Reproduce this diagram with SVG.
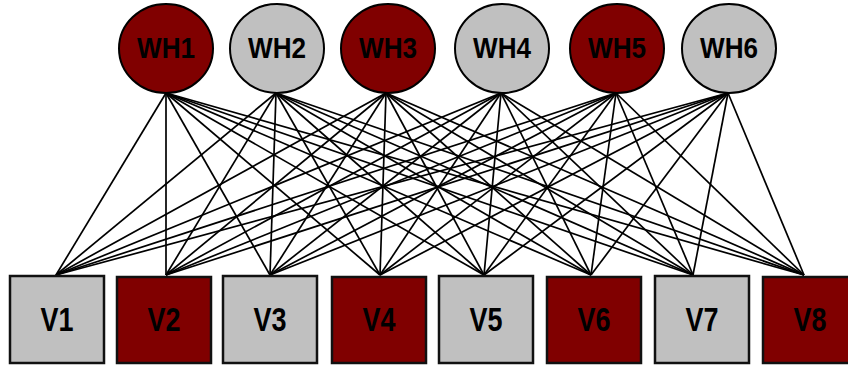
<svg xmlns="http://www.w3.org/2000/svg" width="848" height="365" viewBox="0 0 848 365">
<style>
.red{fill:#800000}
.gray{fill:#c0c0c0}
.c{stroke:#000;stroke-width:2}
.b{stroke:#111;stroke-width:2.5}
.t{font-family:"Liberation Sans",Arial,sans-serif;font-weight:bold;fill:#000;text-anchor:middle}
.wt{font-size:30px}
.vt{font-size:34px}
#edges line{stroke:#000;stroke-width:1.7}
</style>
<rect width="848" height="365" fill="#fff"/>
<g id="edges">
<line x1="166" y1="93" x2="56" y2="275"/><line x1="166" y1="93" x2="166" y2="275"/><line x1="166" y1="93" x2="270" y2="275"/><line x1="166" y1="93" x2="380" y2="275"/><line x1="166" y1="93" x2="484" y2="275"/><line x1="166" y1="93" x2="591" y2="275"/><line x1="166" y1="93" x2="693" y2="275"/><line x1="166" y1="93" x2="804" y2="275"/>
<line x1="276" y1="93" x2="56" y2="275"/><line x1="276" y1="93" x2="166" y2="275"/><line x1="276" y1="93" x2="270" y2="275"/><line x1="276" y1="93" x2="380" y2="275"/><line x1="276" y1="93" x2="484" y2="275"/><line x1="276" y1="93" x2="591" y2="275"/><line x1="276" y1="93" x2="693" y2="275"/><line x1="276" y1="93" x2="804" y2="275"/>
<line x1="386" y1="93" x2="56" y2="275"/><line x1="386" y1="93" x2="166" y2="275"/><line x1="386" y1="93" x2="270" y2="275"/><line x1="386" y1="93" x2="380" y2="275"/><line x1="386" y1="93" x2="484" y2="275"/><line x1="386" y1="93" x2="591" y2="275"/><line x1="386" y1="93" x2="693" y2="275"/><line x1="386" y1="93" x2="804" y2="275"/>
<line x1="501" y1="93" x2="56" y2="275"/><line x1="501" y1="93" x2="166" y2="275"/><line x1="501" y1="93" x2="270" y2="275"/><line x1="501" y1="93" x2="380" y2="275"/><line x1="501" y1="93" x2="484" y2="275"/><line x1="501" y1="93" x2="591" y2="275"/><line x1="501" y1="93" x2="693" y2="275"/><line x1="501" y1="93" x2="804" y2="275"/>
<line x1="616" y1="93" x2="56" y2="275"/><line x1="616" y1="93" x2="166" y2="275"/><line x1="616" y1="93" x2="270" y2="275"/><line x1="616" y1="93" x2="380" y2="275"/><line x1="616" y1="93" x2="484" y2="275"/><line x1="616" y1="93" x2="591" y2="275"/><line x1="616" y1="93" x2="693" y2="275"/><line x1="616" y1="93" x2="804" y2="275"/>
<line x1="728" y1="93" x2="56" y2="275"/><line x1="728" y1="93" x2="166" y2="275"/><line x1="728" y1="93" x2="270" y2="275"/><line x1="728" y1="93" x2="380" y2="275"/><line x1="728" y1="93" x2="484" y2="275"/><line x1="728" y1="93" x2="591" y2="275"/><line x1="728" y1="93" x2="693" y2="275"/><line x1="728" y1="93" x2="804" y2="275"/>
</g>
<g id="WH1"><ellipse class="red c" cx="166" cy="48.5" rx="47" ry="44.5"/><text class="t wt" x="166" y="57.5" textLength="58" lengthAdjust="spacingAndGlyphs">WH1</text></g>
<g id="WH2"><ellipse class="gray c" cx="277" cy="48.5" rx="47" ry="44.5"/><text class="t wt" x="277" y="57.5" textLength="58" lengthAdjust="spacingAndGlyphs">WH2</text></g>
<g id="WH3"><ellipse class="red c" cx="388" cy="48.5" rx="47" ry="44.5"/><text class="t wt" x="388" y="57.5" textLength="58" lengthAdjust="spacingAndGlyphs">WH3</text></g>
<g id="WH4"><ellipse class="gray c" cx="502" cy="48.5" rx="47" ry="44.5"/><text class="t wt" x="502" y="57.5" textLength="58" lengthAdjust="spacingAndGlyphs">WH4</text></g>
<g id="WH5"><ellipse class="red c" cx="617" cy="48.5" rx="47" ry="44.5"/><text class="t wt" x="617" y="57.5" textLength="58" lengthAdjust="spacingAndGlyphs">WH5</text></g>
<g id="WH6"><ellipse class="gray c" cx="729" cy="48.5" rx="47" ry="44.5"/><text class="t wt" x="729" y="57.5" textLength="58" lengthAdjust="spacingAndGlyphs">WH6</text></g>
<g id="V1"><rect class="gray b" x="10" y="276" width="94" height="87"/><text class="t vt" x="57" y="331" textLength="33" lengthAdjust="spacingAndGlyphs">V1</text></g>
<g id="V2"><rect class="red b" x="117" y="277" width="94" height="86"/><text class="t vt" x="164" y="331" textLength="33" lengthAdjust="spacingAndGlyphs">V2</text></g>
<g id="V3"><rect class="gray b" x="223" y="276" width="94" height="87"/><text class="t vt" x="270" y="331" textLength="33" lengthAdjust="spacingAndGlyphs">V3</text></g>
<g id="V4"><rect class="red b" x="332" y="277" width="94" height="86"/><text class="t vt" x="379" y="331" textLength="33" lengthAdjust="spacingAndGlyphs">V4</text></g>
<g id="V5"><rect class="gray b" x="439" y="276" width="94" height="87"/><text class="t vt" x="486" y="331" textLength="33" lengthAdjust="spacingAndGlyphs">V5</text></g>
<g id="V6"><rect class="red b" x="547" y="277" width="94" height="86"/><text class="t vt" x="594" y="331" textLength="33" lengthAdjust="spacingAndGlyphs">V6</text></g>
<g id="V7"><rect class="gray b" x="655" y="276" width="94" height="87"/><text class="t vt" x="702" y="331" textLength="33" lengthAdjust="spacingAndGlyphs">V7</text></g>
<g id="V8"><rect class="red b" x="763" y="277" width="94" height="86"/><text class="t vt" x="810" y="331" textLength="33" lengthAdjust="spacingAndGlyphs">V8</text></g>
</svg>
